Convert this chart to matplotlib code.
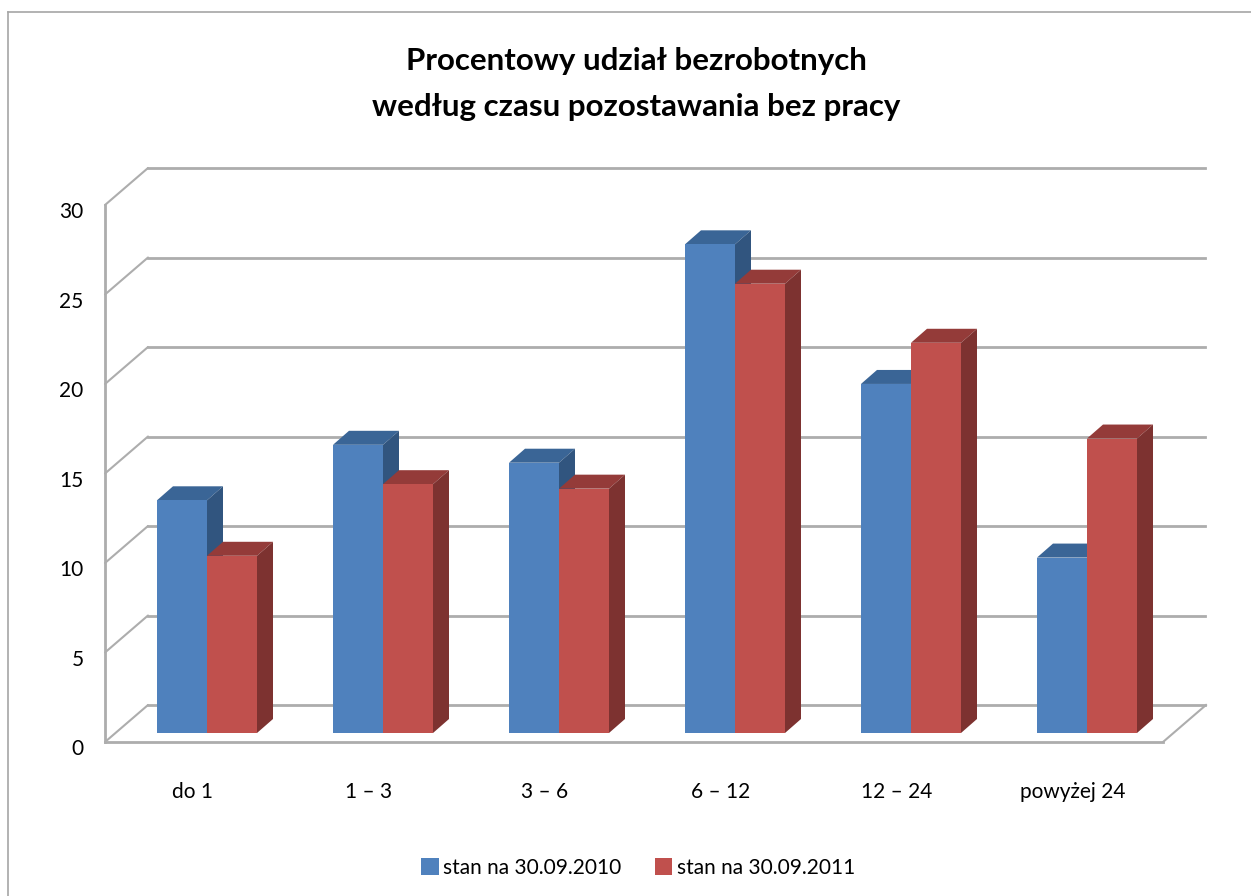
import matplotlib
matplotlib.use("Agg")
import matplotlib.pyplot as plt
from matplotlib.lines import Line2D
from matplotlib.patches import Polygon
from matplotlib.transforms import ScaledTranslation

plt.rcParams['font.family'] = ['Lato', 'DejaVu Sans']

categories = ['do 1', '1 – 3', '3 – 6', '6 – 12', '12 – 24', 'powyżej 24']
series_2010 = [13.0, 16.1, 15.1, 27.3, 19.5, 9.8]
series_2011 = [9.9, 13.9, 13.65, 25.1, 21.8, 16.45]
label_2010 = 'stan na 30.09.2010'
label_2011 = 'stan na 30.09.2011'
y_ticks = [0, 5, 10, 15, 20, 25, 30]
title = 'Procentowy udział bezrobotnych\nwedług czasu pozostawania bez pracy'

W, H = 1251, 896
fig = plt.figure(figsize=(W / 100, H / 100), dpi=100, facecolor='white')

# axes: front plane of the 3-D box, in pixels of the reference
L, R, Y0, Y30 = 105, 1163, 742, 205
ax = fig.add_axes([L / W, 1 - Y0 / H, (R - L) / W, (Y0 - Y30) / H])
px_x = 176.0            # pixels per category
px_y = (Y0 - Y30) / 30  # pixels per unit
ax.set_xlim((L - 207) / px_x, (R - 207) / px_x)
ax.set_ylim(0, 30)
ux, uy = 1 / px_x, 1 / px_y

GRID = '#adadad'
wall_dx, wall_dy = 43 * ux, 37 * uy
back_right = (1205 - 207) * ux
for v in y_ticks:
    ax.plot([ax.get_xlim()[0], ax.get_xlim()[0] + wall_dx], [v, v + wall_dy],
            color=GRID, lw=1.5, clip_on=False, zorder=1, solid_capstyle='round')
    ax.plot([ax.get_xlim()[0] + wall_dx, back_right], [v + wall_dy] * 2,
            color=GRID, lw=2.0, clip_on=False, zorder=1)
ax.plot([ax.get_xlim()[1], ax.get_xlim()[1] + wall_dx], [0, wall_dy],
        color=GRID, lw=1.5, clip_on=False, zorder=1)

# bars
bw = 50 * ux
base = 9 * uy
dep_x, dep_y = 16 * ux, 14 * uy
xs = list(range(len(categories)))


def draw_series(xpos, values, face, top, side, label, z):
    bars = ax.bar(xpos, values, bw, bottom=base, color=face, label=label,
                  zorder=z + 1, linewidth=0)
    for x, v in zip(xpos, values):
        l, r = x - bw / 2, x + bw / 2
        t = base + v
        ax.add_patch(Polygon([(l, t), (l + dep_x, t + dep_y), (r + dep_x, t + dep_y), (r, t)],
                             closed=True, fc=top, ec='none', zorder=z))
        ax.add_patch(Polygon([(r, base), (r + dep_x, base + dep_y), (r + dep_x, t + dep_y), (r, t)],
                             closed=True, fc=side, ec='none', zorder=z))
    return bars


b1 = draw_series([x - bw / 2 for x in xs], series_2010, '#4F81BD', '#3A6596', '#31557F', label_2010, 3)
b2 = draw_series([x + bw / 2 for x in xs], series_2011, '#C0504D', '#943B39', '#7D3230', label_2011, 5)

# axes furniture
for s in ('top', 'right'):
    ax.spines[s].set_visible(False)
for s in ('left', 'bottom'):
    ax.spines[s].set_color(GRID)
    ax.spines[s].set_linewidth(2.0)
ax.set_yticks(y_ticks)
ax.set_xticks(xs)
ax.set_xticklabels(categories)
ax.tick_params(length=0, labelsize=15, colors='black')
ax.tick_params(axis='y', pad=15.5)
ax.tick_params(axis='x', pad=29)
ax.patch.set_alpha(0)
off_y = ScaledTranslation(0, -5 / 100, fig.dpi_scale_trans)
off_x = ScaledTranslation(-14 / 100, 0, fig.dpi_scale_trans)
for lab in ax.get_yticklabels():
    lab.set_transform(lab.get_transform() + off_y)
for lab in ax.get_xticklabels():
    lab.set_transform(lab.get_transform() + off_x)

fig.text(636 / W, 1 - 84 / H, title, ha='center', va='center', fontsize=22.5,
         fontweight='bold', color='black', linespacing=1.75)

fig.legend(handles=[b1, b2], loc='center', bbox_to_anchor=(638 / W, 1 - 868 / H), ncol=2,
           frameon=False, fontsize=15, handlelength=0.85, handleheight=0.85,
           handletextpad=0.2, columnspacing=1.6)

# outer chart frame (open towards the right and bottom of the crop)
fig.add_artist(Line2D([8 / W, 8 / W], [0, 1 - 12 / H], color='#a6a6a6', lw=1.2))
fig.add_artist(Line2D([8 / W, 1], [1 - 12 / H, 1 - 12 / H], color='#a6a6a6', lw=1.2))

fig.savefig('out.png', dpi=100, facecolor='white')
